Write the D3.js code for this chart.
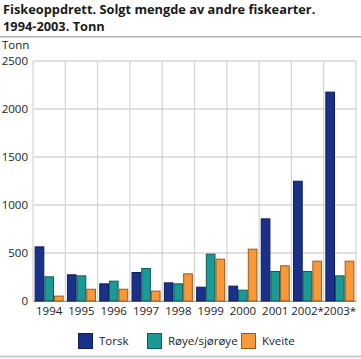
<!DOCTYPE html>
<html><head><meta charset="utf-8">
<script src="https://cdn.jsdelivr.net/npm/d3@7"></script>
<style>body{margin:0;background:#fff}svg{display:block}text{font-family:"Open Sans",sans-serif}</style>
</head><body><svg id="c" width="361" height="359"></svg>
<script>
const years = ["1994","1995","1996","1997","1998","1999","2000","2001","2002*","2003*"];
const seriesNames = ["Torsk","Røye/sjørøye","Kveite"];
const torsk = [569,278,184,302,194,149,160,861,1253,2181];
const roye = [257,267,212,344,184,493,118,313,313,267];
const kveite = [56,128,128,108,288,441,545,372,420,420];
const yTicks = [0,500,1000,1500,2000,2500];
const colors = ["#1a318b","#1b9994","#f7993a"];
const strokes = ["#0d1c55","#0e5a57","#9a5a1a"];

const svg = d3.select("#c");
const m = {l:33,r:356,t:61,b:301};
svg.append("text").attr("x",3).attr("y",14).attr("font-size",12.8).attr("font-weight","bold").attr("fill","#1a1a1a").text("Fiskeoppdrett. Solgt mengde av andre fiskearter.");
svg.append("text").attr("x",3).attr("y",31).attr("font-size",12.8).attr("font-weight","bold").attr("fill","#1a1a1a").text("1994-2003. Tonn");
svg.append("rect").attr("x",0).attr("y",36).attr("width",361).attr("height",1.5).attr("fill","#b0b0b0");
svg.append("rect").attr("x",0).attr("y",355.5).attr("width",361).attr("height",2).attr("fill","#c8c8c8");

const x = d3.scaleBand().domain(years).range([m.l,m.r]).paddingInner(0).paddingOuter(0);
const y = d3.scaleLinear().domain([0,2500]).range([m.b,m.t]);
const xs = d3.scaleBand().domain(seriesNames).range([0,x.bandwidth()]).paddingInner(0).paddingOuter(0.17);

// grid
const g = svg.append("g");
g.selectAll("line.h").data(yTicks).join("line").attr("x1",m.l).attr("x2",m.r)
 .attr("y1",d=>y(d)).attr("y2",d=>y(d)).attr("stroke","#d6d6d6").attr("stroke-width",1.3);
const vx = years.map(d=>x(d)).concat([m.r]);
g.selectAll("line.v").data(vx).join("line").attr("y1",m.t).attr("y2",m.b)
 .attr("x1",d=>d).attr("x2",d=>d).attr("stroke","#d6d6d6").attr("stroke-width",1.3);

// y axis labels
svg.append("g").attr("transform",`translate(${m.l-5},0)`)
 .call(d3.axisLeft(y).tickValues(yTicks).tickFormat(d3.format("d")).tickSize(0).tickPadding(0))
 .call(a=>a.select(".domain").remove())
 .selectAll("text").attr("font-size",11.5).attr("fill","#222").attr("font-family","Open Sans, sans-serif");
svg.append("text").attr("x",2).attr("y",49).attr("font-size",11.5).attr("fill","#222").text("Tonn");

// x axis
svg.append("g").attr("transform",`translate(0,${m.b})`)
 .call(d3.axisBottom(x).tickSize(0).tickPadding(6))
 .call(a=>a.select(".domain").attr("stroke","#999"))
 .selectAll("text").attr("font-size",11.5).attr("fill","#222").attr("font-family","Open Sans, sans-serif");

const data = [torsk,roye,kveite];
data.forEach((vals,si)=>{
  svg.append("g").selectAll("rect").data(vals).join("rect")
   .attr("x",(d,i)=>x(years[i])+xs(seriesNames[si])+0.5)
   .attr("width",xs.bandwidth()-1)
   .attr("y",d=>y(d)+0.5).attr("height",d=>y(0)-y(d)-0.5)
   .attr("fill",colors[si]).attr("stroke",strokes[si]).attr("stroke-width",1);
});

// legend
const lx = [78,147,241];
seriesNames.forEach((n,i)=>{
  svg.append("rect").attr("x",lx[i]+0.5).attr("y",333.5).attr("width",14).attr("height",15)
   .attr("fill",colors[i]).attr("stroke",strokes[i]).attr("stroke-width",1);
  svg.append("text").attr("x",lx[i]+21).attr("y",345).attr("font-size",11.5).attr("fill","#222").text(n);
});
</script></body></html>
